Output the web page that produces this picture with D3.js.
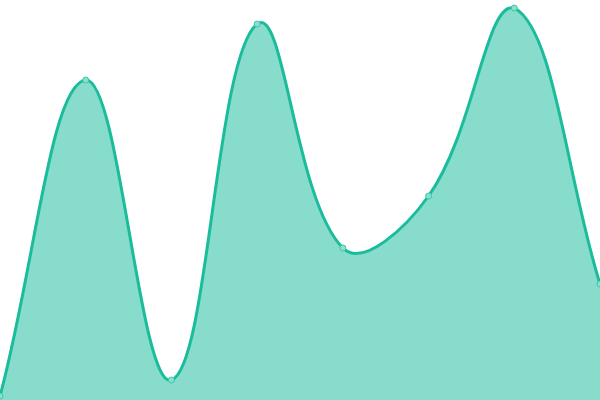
<!DOCTYPE html>
<html><head><meta charset="utf-8">
<script src="https://cdn.jsdelivr.net/npm/d3@7"></script>
<style>html,body{margin:0;padding:0;background:#fff;overflow:hidden}svg{display:block}</style>
</head><body>
<svg id="c" width="600" height="400"></svg>
<script>
const categories = [0, 1, 2, 3, 4, 5, 6, 7];
const values = [1, 80, 5, 94, 38, 51, 98, 29];
const W = 600, H = 400;
const svg = d3.select("#c");
const x = d3.scaleLinear().domain([0, categories.length - 1]).range([0, W]);
const y = d3.scaleLinear().domain([0, 100]).range([H, 0]);
const data = categories.map((c, i) => ({c, v: values[i]}));

// Custom d3 curve: tension-weighted spline with control points capped to the plot area
function SplineCurve(context, t) { this._context = context; this._t = t; }
SplineCurve.prototype = {
  areaStart() { this._line = 0; },
  areaEnd() { this._line = NaN; },
  lineStart() { this._xs = []; this._ys = []; },
  point(px, py) { this._xs.push(+px); this._ys.push(+py); },
  lineEnd() {
    const xs = this._xs, ys = this._ys, n = xs.length, c = this._context, t = this._t;
    if (n) {
      const cp1 = [], cp2 = [];
      const cap = (v, lo, hi) => Math.max(Math.min(v, hi), lo);
      for (let i = 0; i < n; i++) {
        const p = i > 0 ? i - 1 : 0, q = i < n - 1 ? i + 1 : n - 1;
        const d01 = Math.hypot(xs[i] - xs[p], ys[i] - ys[p]);
        const d12 = Math.hypot(xs[q] - xs[i], ys[q] - ys[i]);
        let s01 = d01 / (d01 + d12), s12 = d12 / (d01 + d12);
        if (isNaN(s01)) s01 = 0; if (isNaN(s12)) s12 = 0;
        const fa = t * s01, fb = t * s12;
        const dx = xs[q] - xs[p], dy = ys[q] - ys[p];
        cp1.push([cap(xs[i] - fa * dx, 0, W), cap(ys[i] - fa * dy, 0, H)]);
        cp2.push([cap(xs[i] + fb * dx, 0, W), cap(ys[i] + fb * dy, 0, H)]);
      }
      this._line ? c.lineTo(xs[0], ys[0]) : c.moveTo(xs[0], ys[0]);
      for (let i = 1; i < n; i++) {
        c.bezierCurveTo(cp2[i - 1][0], cp2[i - 1][1], cp1[i][0], cp1[i][1], xs[i], ys[i]);
      }
    }
    if (this._line || (this._line !== 0 && n === 1)) c.closePath();
    this._line = 1 - this._line;
  }
};
const curve = ctx => new SplineCurve(ctx, 0.4);

const area = d3.area().x(d => x(d.c)).y0(H).y1(d => y(d.v)).curve(curve);
const line = d3.line().x(d => x(d.c)).y(d => y(d.v)).curve(curve);
svg.append("path").datum(data).attr("d", area).attr("fill", "#1abc9c").attr("fill-opacity", 0.52);
svg.append("path").datum(data).attr("d", line).attr("fill", "none").attr("stroke", "#1abc9c").attr("stroke-width", 3);
svg.selectAll("circle").data(data).enter().append("circle")
  .attr("cx", d => x(d.c)).attr("cy", d => y(d.v)).attr("r", 3)
  .attr("fill", "#8ddfcd").attr("stroke", "#3cc8a8").attr("stroke-width", 1);
</script>
</body></html>
